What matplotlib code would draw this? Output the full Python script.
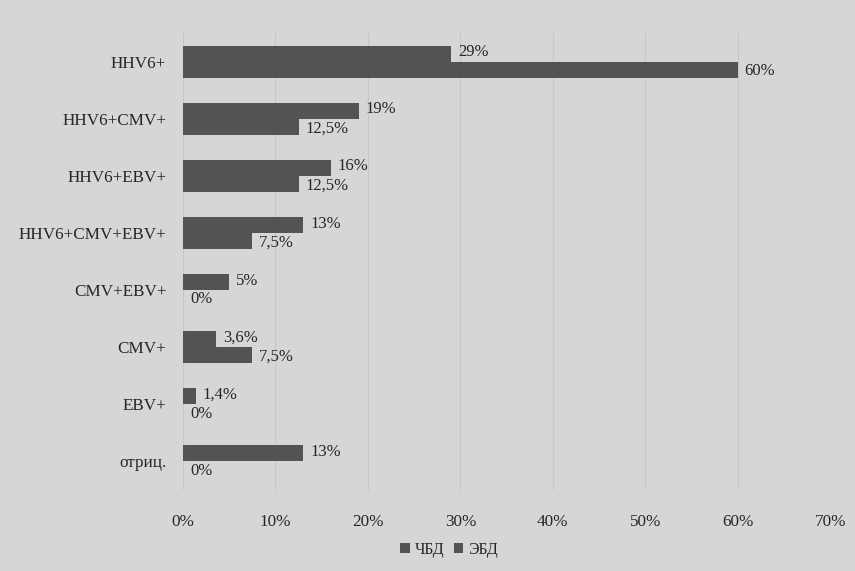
import numpy as np
import matplotlib.pyplot as plt

categories = ['HHV6+', 'HHV6+CMV+', 'HHV6+EBV+', 'HHV6+CMV+EBV+',
              'CMV+EBV+', 'CMV+', 'EBV+', 'отриц.']
chbd = [29, 19, 16, 13, 5, 3.6, 1.4, 13]
ebd = [60, 12.5, 12.5, 7.5, 0, 7.5, 0, 0]
chbd_labels = ['29%', '19%', '16%', '13%', '5%', '3,6%', '1,4%', '13%']
ebd_labels = ['60%', '12,5%', '12,5%', '7,5%', '0%', '7,5%', '0%', '0%']

plt.rcParams['font.family'] = ['Liberation Serif', 'DejaVu Serif']

bg = '#d6d6d4'
bar_col = '#535353'
txt = '#262626'

fig = plt.figure(figsize=(8.55, 5.71), dpi=100, facecolor=bg)
ax = fig.add_axes([0.214, 0.142, 0.757, 0.80], facecolor=bg)

y = np.arange(len(categories))
h = 0.28
ax.barh(y - h / 2, chbd, height=h, color=bar_col, label='ЧБД')
ax.barh(y + h / 2, ebd, height=h, color=bar_col, label='ЭБД')

for i in range(len(categories)):
    ax.annotate(chbd_labels[i], (chbd[i], y[i] - h / 2), xytext=(5, 1),
                textcoords='offset points', va='center', ha='left',
                fontsize=12, color=txt)
    ax.annotate(ebd_labels[i], (ebd[i], y[i] + h / 2), xytext=(5, -1),
                textcoords='offset points', va='center', ha='left',
                fontsize=12, color=txt)

ax.set_xlim(0, 70)
ax.set_ylim(len(categories) - 0.5, -0.5)
ax.set_yticks(y)
ax.set_yticklabels(categories, fontsize=12.3, color=txt)
ax.set_xticks(range(0, 71, 10))
ax.set_xticklabels([f'{v}%' for v in range(0, 71, 10)], fontsize=12.3, color=txt)
ax.tick_params(length=0)
ax.tick_params(axis='x', pad=17)
ax.tick_params(axis='y', pad=12)
ax.grid(axis='x', color='#c7c7c5', linewidth=0.8)
ax.set_axisbelow(True)
for s in ax.spines.values():
    s.set_visible(False)

fig.legend(loc='lower center', bbox_to_anchor=(0.525, -0.002), ncol=2, frameon=False,
           fontsize=11.5, handlelength=0.6, handleheight=0.6, handletextpad=0.3,
           columnspacing=0.6, labelcolor=txt)

fig.savefig('out.png', dpi=100, facecolor=bg)
